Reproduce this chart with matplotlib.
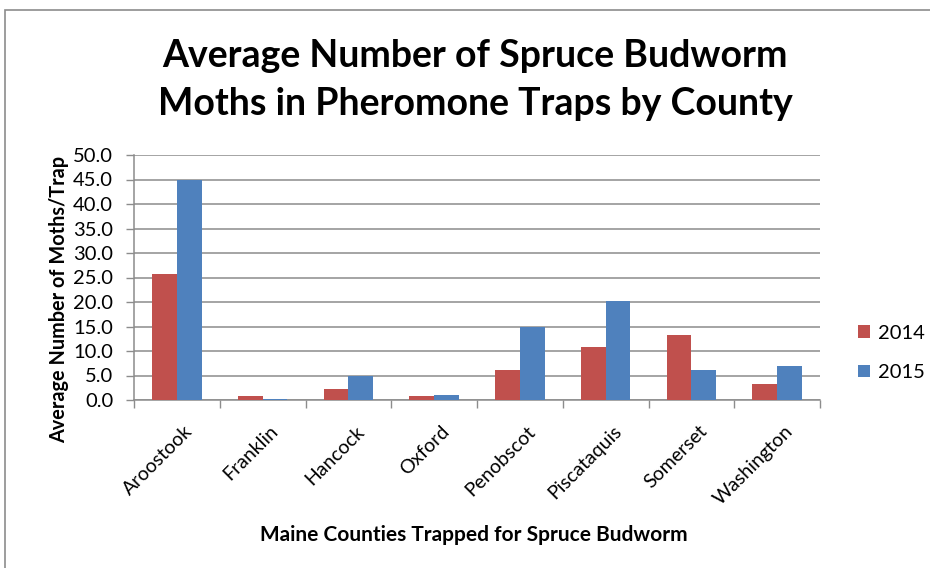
import numpy as np
import matplotlib.pyplot as plt
from matplotlib.patches import Rectangle

counties = ["Aroostook", "Franklin", "Hancock", "Oxford",
            "Penobscot", "Piscataquis", "Somerset", "Washington"]
moths_2014 = [25.7, 0.8, 2.2, 0.8, 6.1, 10.8, 13.2, 3.2]
moths_2015 = [45.0, 0.3, 4.8, 1.1, 15.0, 20.2, 6.1, 6.9]
years = ["2014", "2015"]
yticks = np.arange(0, 50.1, 5)

plt.rcParams['font.family'] = ['Lato', 'DejaVu Sans']

fig = plt.figure(figsize=(9.3, 5.68), dpi=100)
ax = fig.add_axes([134 / 930, 1 - 400 / 568, 686 / 930, 245 / 568])

x = np.arange(len(counties))
w = 0.29
ax.bar(x - w / 2, moths_2014, w, color="#C0504D", label=years[0], zorder=3)
ax.bar(x + w / 2, moths_2015, w, color="#4F81BD", label=years[1], zorder=3)

ax.set_xlim(-0.5, len(counties) - 0.5)
ax.set_ylim(0, 50)
ax.set_yticks(yticks)
ax.set_yticklabels([f"{v:.1f}" for v in yticks], fontsize=14.5)
ax.yaxis.grid(True, color="#8c8c8c", linewidth=1.1, zorder=0)

# category ticks sit between groups, labels at the group centres
ax.set_xticks(np.arange(len(counties) + 1) - 0.5)
ax.set_xticklabels([])
ax.tick_params(axis="x", length=6, color="#8c8c8c", width=1)
ax.tick_params(axis="y", length=6, color="#8c8c8c", width=1, pad=9)
for i, name in enumerate(counties):
    ax.text(i + 0.08, -4.6, name, rotation=45, ha="right", va="top",
            rotation_mode="anchor", fontsize=14)

for s in ["top", "right"]:
    ax.spines[s].set_visible(False)
for s in ["left", "bottom"]:
    ax.spines[s].set_color("#8c8c8c")
    ax.spines[s].set_linewidth(1.1)

ax.set_ylabel("Average Number of Moths/Trap", fontsize=14.3,
              fontweight="bold")
ax.yaxis.set_label_coords(-0.094, 0.41)
fig.text(474 / 930, 1 - 535 / 568, "Maine Counties Trapped for Spruce Budworm",
         ha="center", va="center", fontsize=15, fontweight="bold")

fig.text(475 / 930, 1 - 80 / 568,
         "Average Number of Spruce Budworm\nMoths in Pheromone Traps by County",
         ha="center", va="center", fontsize=27, fontweight="bold",
         linespacing=1.5)

ax.legend(loc="center left", bbox_to_anchor=(840 / 930, 1 - 353 / 568),
          bbox_transform=fig.transFigure, frameon=False, fontsize=14.5,
          handlelength=0.6, handleheight=0.6, handletextpad=0.4,
          labelspacing=1.1)

fig.patches.append(Rectangle((5 / 930, -0.1), 1.1, 1 - 10 / 568 + 0.1,
                             transform=fig.transFigure, fill=False,
                             edgecolor="#8c8c8c", linewidth=1.2))

fig.savefig("out.png", dpi=100)
